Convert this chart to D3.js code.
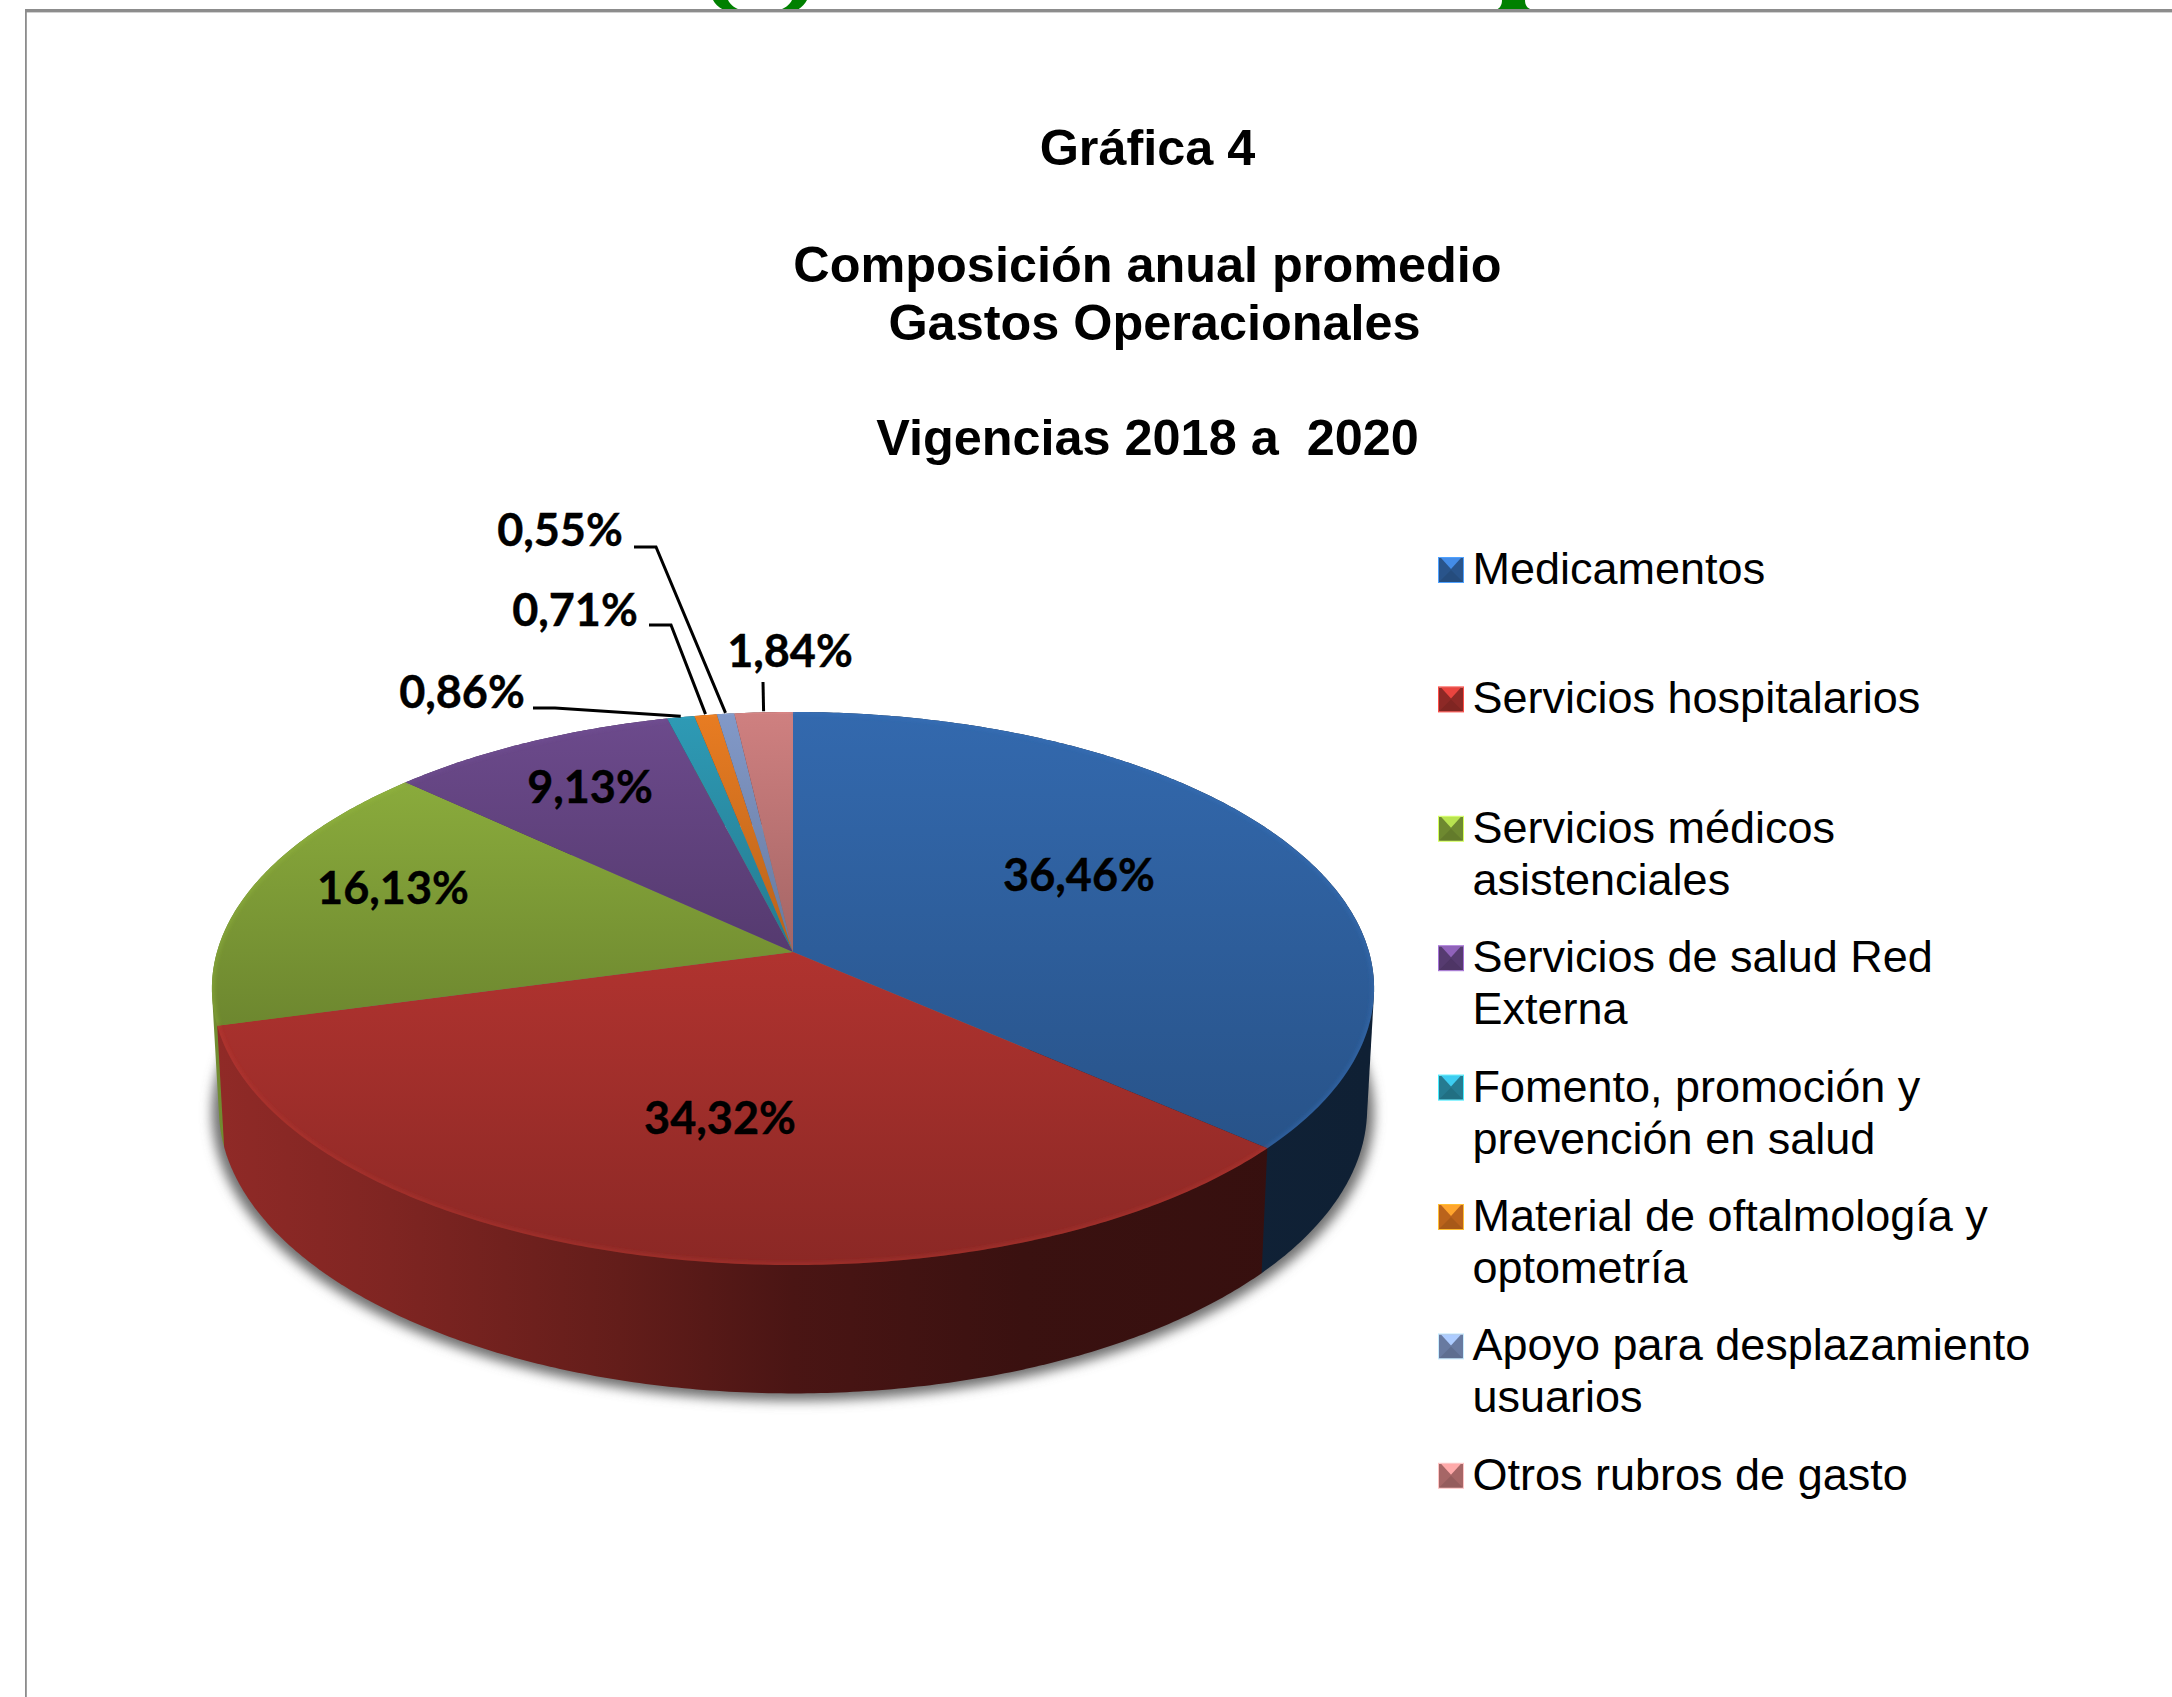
<!DOCTYPE html>
<html><head><meta charset="utf-8">
<script src="https://d3js.org/d3.v7.min.js"></script>
<style>html,body{margin:0;padding:0;background:#fff}svg{display:block}</style>
</head><body><div id="c"></div>
<script>
const categories = [["Medicamentos"],["Servicios hospitalarios"],["Servicios médicos","asistenciales"],["Servicios de salud Red","Externa"],["Fomento, promoción y","prevención en salud"],["Material de oftalmología y","optometría"],["Apoyo para desplazamiento","usuarios"],["Otros rubros de gasto"]];
const values = [36.46,34.32,16.13,9.13,0.86,0.71,0.55,1.84];
const colors = ["#3369ae","#b0332f","#8aab3c","#6c4a8c","#2e9ab5","#e87c22","#8299c8","#cf8080"];
const titleLines = ["Gráfica 4","Composición anual promedio","Gastos Operacionales","Vigencias 2018 a  2020"];

// layout only
const W=2172,H=1697;
const apex={x:793,y:952}, persp=-0.132, Ry=271.7, Rx=576, botX=0.988, botK=1.03, botDy=119;
const labelAt=[[1079,890.5],[720,1134],[393,903.5],[590,802.5],[462,707.5],[575,626],[560,545.5],[790,666.5]];
const leaders={4:[[533,708],[555,708]],5:[[649,625],[671,625]],6:[[634,547],[656,547]],7:[[763,682]]};
const titleAt=[[1147.5,165],[1147.5,282],[1154.5,340],[1147.5,455]];
const legendX=1439, legendTop=558, legendStep=129.4, legendLine=52, swatch=24;

const svg=d3.select("#c").append("svg").attr("width",W).attr("height",H);
const defs=svg.append("defs");
svg.append("rect").attr("width",W).attr("height",H).attr("fill","#fff");

// clipped glyphs above the frame, and frame
svg.append("path").attr("fill","#008000").attr("d","M713,0 C715,4 718,7 723,9.5 L798,9.5 C802,7 805,4 807,0 L792,0 C790,4 787,7 781,9.5 L739,9.5 C733,7 730,4 728,0 Z");
svg.append("path").attr("fill","#008000").attr("d","M1502,0 L1525,0 C1525,5 1527,8 1531,9.5 L1497,9.5 C1500,8 1502,5 1502,0 Z");
svg.append("rect").attr("x",25).attr("y",9).attr("width",W-25).attr("height",3.4).attr("fill","#8c8c8c");
svg.append("rect").attr("x",25).attr("y",9).attr("width",1.8).attr("height",H-9).attr("fill","#8c8c8c");

// projection of the pie disc
function proj(a,bottom){
  const u=Math.sin(a), v=-Math.cos(a), d=1+persp*v;
  const X=Rx*u/d, Y=Ry*v/d;
  return bottom?[apex.x+X*botX, apex.y+botDy+Y*botK]:[apex.x+X, apex.y+Y];
}
const pie=d3.pie().sort(null).value(d=>d)(values);
function arcPts(s,e,bottom){
  const n=Math.max(2,Math.ceil((e-s)/0.01)), pts=[];
  for(let i=0;i<=n;i++) pts.push(proj(s+(e-s)*i/n,bottom));
  return pts;
}
const line=d3.line();

const f1=defs.append("filter").attr("id","shadow").attr("x","-10%").attr("y","-10%").attr("width","120%").attr("height","120%");
f1.append("feGaussianBlur").attr("stdDeviation",6);
const f2=defs.append("filter").attr("id","rimblur").attr("x","-5%").attr("y","-5%").attr("width","110%").attr("height","110%");
f2.append("feGaussianBlur").attr("stdDeviation",2);

function scale(c,k){const r=d3.rgb(c);return d3.rgb(r.r*k,r.g*k,r.b*k).formatHex();}

pie.forEach((p,i)=>{
  const g=defs.append("linearGradient").attr("id","top"+i).attr("x1",0).attr("y1",0).attr("x2",0).attr("y2",1);
  g.append("stop").attr("offset",0).attr("stop-color",colors[i]);
  g.append("stop").attr("offset",1).attr("stop-color",scale(colors[i],0.79));
  const s=defs.append("linearGradient").attr("id","side"+i).attr("gradientUnits","userSpaceOnUse")
    .attr("x1",apex.x-Rx).attr("x2",apex.x+Rx).attr("y1",0).attr("y2",0);
  [[0,.82],[.15,.72],[.35,.56],[.5,.42],[.7,.33],[1,.3]].forEach(t=>s.append("stop").attr("offset",t[0]).attr("stop-color",scale(colors[i],t[1])));
});

// shadow
svg.append("path").attr("fill","#6f6f6f").attr("filter","url(#shadow)")
  .attr("transform",`translate(${apex.x},${apex.y+botDy+44}) scale(1.012) translate(${-apex.x},${-(apex.y+botDy+44)}) translate(0,4)`)
  .attr("d",line(arcPts(0,2*Math.PI,true))+"Z");

// sides, back to front: each side is the hull of its top and bottom rim arcs
const order=pie.map((p,i)=>i).sort((a,b)=>d3.max(arcPts(pie[a].startAngle,pie[a].endAngle,false),q=>q[1])-d3.max(arcPts(pie[b].startAngle,pie[b].endAngle,false),q=>q[1]));
svg.append("g").selectAll("path").data(order).join("path")
  .attr("fill",i=>`url(#side${i})`)
  .attr("d",i=>{const p=pie[i];return line(d3.polygonHull(arcPts(p.startAngle,p.endAngle,false).concat(arcPts(p.startAngle,p.endAngle,true))))+"Z";});

// top faces
const clip=defs.append("clipPath").attr("id","disc");
clip.append("path").attr("d",line(arcPts(0,2*Math.PI,false))+"Z");
svg.append("g").selectAll("path").data(pie).join("path")
  .attr("fill",(p,i)=>`url(#top${i})`)
  .attr("d",p=>line([[apex.x,apex.y]].concat(arcPts(p.startAngle,p.endAngle,false)))+"Z");
svg.append("g").attr("clip-path","url(#disc)").selectAll("path").data(pie).join("path")
  .attr("fill","none").attr("stroke",(p,i)=>d3.color(colors[i]).brighter(0.3).formatHex())
  .attr("stroke-width",4).attr("stroke-opacity",.45).attr("filter","url(#rimblur)")
  .attr("d",p=>line(arcPts(p.startAngle,p.endAngle,false)));

// leader lines end on the slice rim
Object.keys(leaders).forEach(k=>{
  const p=pie[+k], end=proj((p.startAngle+p.endAngle)/2,false);
  svg.append("path").attr("fill","none").attr("stroke","#000").attr("stroke-width",3)
    .attr("d",line(leaders[k].concat([[end[0],end[1]-1]])));
});

// data labels
const fmt=v=>d3.format(".2f")(v).replace(".",",")+"%";
svg.append("g").selectAll("text").data(values).join("text")
  .attr("x",(v,i)=>labelAt[i][0]).attr("y",(v,i)=>labelAt[i][1])
  .attr("text-anchor","middle").attr("font-family","Lato").attr("font-weight",700).attr("font-size",45)
  .attr("fill","#000").attr("stroke","#000").attr("stroke-width",0.4).text(fmt);

// title
svg.append("g").selectAll("text").data(titleLines).join("text")
  .attr("x",(d,i)=>titleAt[i][0]).attr("y",(d,i)=>titleAt[i][1]).style("white-space","pre")
  .attr("text-anchor","middle").attr("font-family","Liberation Sans").attr("font-weight",700).attr("font-size",50.4)
  .attr("fill","#000").text(d=>d);

// legend
const lg=svg.append("g").selectAll("g").data(categories).join("g")
  .attr("transform",(d,i)=>`translate(${legendX},${legendTop+i*legendStep})`);
lg.each(function(d,i){
  const g=d3.select(this), s=swatch, c=colors[i];
  const tri=(pts,fill)=>g.append("path").attr("d",line(pts)+"Z").attr("fill",fill);
  g.append("rect").attr("width",s).attr("height",s).attr("fill",scale(c,.8));
  tri([[0,s],[s,s],[s/2,s/2]],scale(c,.72));
  tri([[2,0],[s-2,0],[s/2,s/2-1]],d3.color(c).brighter(.8).formatHex());
  g.append("rect").attr("x",-.5).attr("y",-.5).attr("width",s+1).attr("height",s+1).attr("fill","none").attr("stroke",d3.color(c).brighter(1.2).formatHex()).attr("stroke-width",1);
  g.selectAll("text").data(d).join("text").attr("x",33.5).attr("y",(t,j)=>26+j*legendLine)
    .attr("font-family","Liberation Sans").attr("font-size",45).attr("fill","#000").text(t=>t);
});
</script></body></html>
